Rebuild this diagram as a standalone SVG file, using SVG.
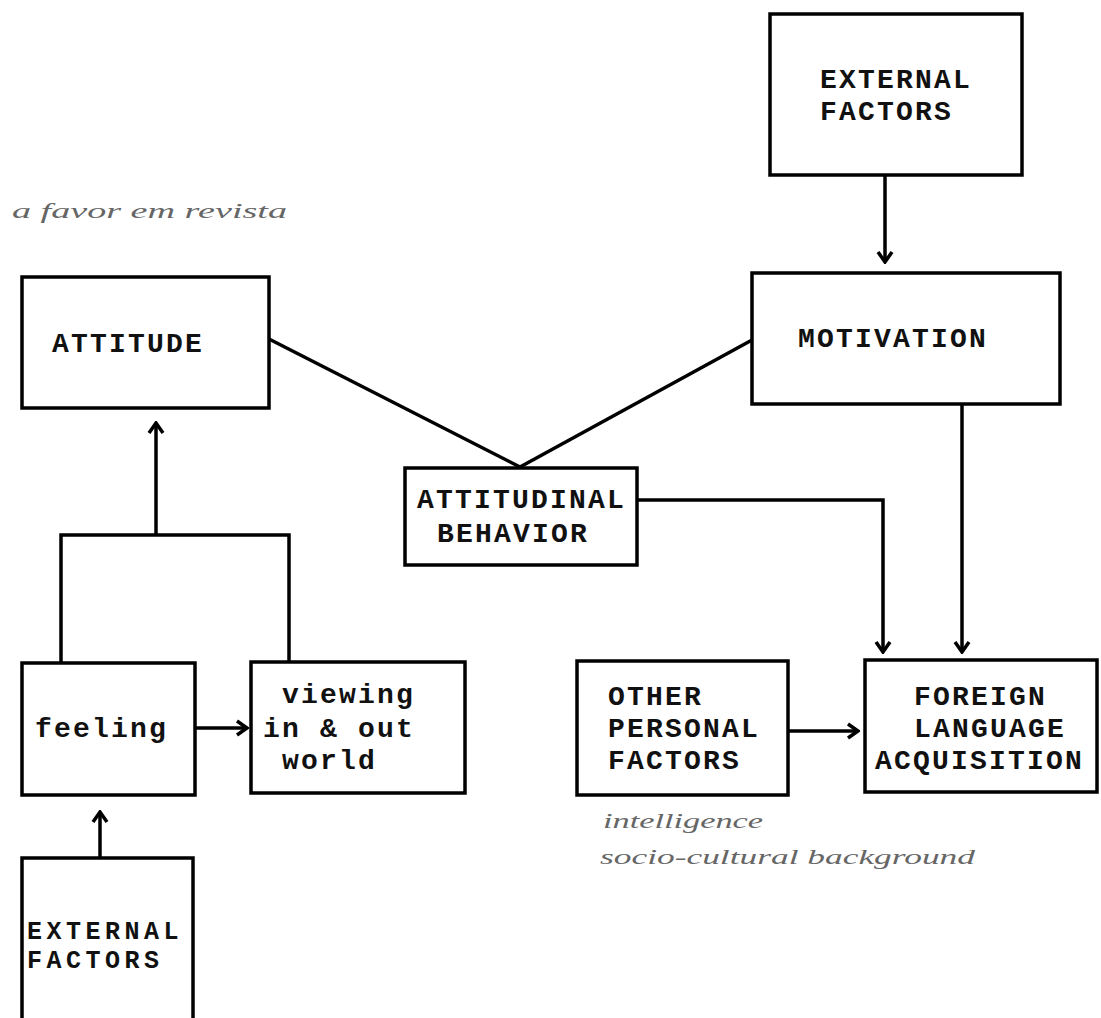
<svg xmlns="http://www.w3.org/2000/svg" width="1101" height="1018" viewBox="0 0 1101 1018">
<style>
.box{fill:#fff;stroke:#000;stroke-width:3.5}
.t{font-family:"Liberation Mono","DejaVu Sans Mono",monospace;font-weight:bold;font-size:28px;letter-spacing:2.2px;fill:#111}
.ts{font-size:25px;letter-spacing:4.5px}
.ln{fill:none;stroke:#000;stroke-width:3.5}
.hw{font-family:"Liberation Serif",serif;font-style:italic;font-size:20px;fill:#666}
</style>
<defs>
<marker id="arr" viewBox="-13 -9 15 18" markerWidth="15" markerHeight="18" refX="0" refY="0" orient="auto" markerUnits="userSpaceOnUse">
<path d="M-10,-7 L0,0 L-10,7" fill="none" stroke="#000" stroke-width="3.5"/>
</marker>
</defs>
<rect width="1101" height="1018" fill="#fff"/>
<g id="connectors">
<line class="ln" x1="885" y1="175" x2="885" y2="262" marker-end="url(#arr)"/>
<line class="ln" x1="269" y1="339" x2="520" y2="467"/>
<line class="ln" x1="752" y1="340" x2="520" y2="467"/>
<polyline class="ln" points="637,500 883,500 883,652" marker-end="url(#arr)"/>
<line class="ln" x1="962" y1="404" x2="962" y2="652" marker-end="url(#arr)"/>
<line class="ln" x1="788" y1="731" x2="858" y2="731" marker-end="url(#arr)"/>
<line class="ln" x1="195" y1="728" x2="247" y2="728" marker-end="url(#arr)"/>
<polyline class="ln" points="61,663 61,535 289,535 289,662"/>
<line class="ln" x1="156" y1="535" x2="156" y2="423" marker-end="url(#arr)"/>
<line class="ln" x1="100" y1="858" x2="100" y2="812" marker-end="url(#arr)"/>
</g>
<g id="external-top">
<rect class="box" x="770" y="14" width="252" height="161"/>
<text class="t" x="820" y="88">EXTERNAL</text>
<text class="t" x="820" y="120">FACTORS</text>
</g>
<g id="motivation">
<rect class="box" x="752" y="273" width="308" height="131"/>
<text class="t" x="798" y="347">MOTIVATION</text>
</g>
<g id="attitude">
<rect class="box" x="22" y="277" width="247" height="131"/>
<text class="t" x="52" y="352">ATTITUDE</text>
</g>
<g id="attitudinal-behavior">
<rect class="box" x="405" y="468" width="232" height="97"/>
<text class="t" x="417" y="508">ATTITUDINAL</text>
<text class="t" x="437" y="542">BEHAVIOR</text>
</g>
<g id="feeling">
<rect class="box" x="22" y="663" width="173" height="132"/>
<text class="t" x="35" y="737">feeling</text>
</g>
<g id="viewing">
<rect class="box" x="251" y="662" width="214" height="131"/>
<text class="t" x="282" y="703">viewing</text>
<text class="t" x="263" y="737">in &amp; out</text>
<text class="t" x="282" y="769">world</text>
</g>
<g id="other-personal">
<rect class="box" x="577" y="661" width="211" height="134"/>
<text class="t" x="608" y="705">OTHER</text>
<text class="t" x="608" y="737">PERSONAL</text>
<text class="t" x="608" y="769">FACTORS</text>
</g>
<g id="fla">
<rect class="box" x="865" y="660" width="232" height="132"/>
<text class="t" x="914" y="705">FOREIGN</text>
<text class="t" x="914" y="737">LANGUAGE</text>
<text class="t" x="875" y="769">ACQUISITION</text>
</g>
<g id="external-bottom">
<rect class="box" x="22" y="858" width="171" height="175"/>
<text class="t ts" x="27" y="939">EXTERNAL</text>
<text class="t ts" x="27" y="968">FACTORS</text>
</g>
<g id="handwriting">
<text class="hw" x="12" y="218" textLength="275" lengthAdjust="spacingAndGlyphs">a favor em revista</text>
<text class="hw" x="603" y="828" textLength="160" lengthAdjust="spacingAndGlyphs">intelligence</text>
<text class="hw" x="600" y="864" textLength="375" lengthAdjust="spacingAndGlyphs">socio-cultural background</text>
</g>
</svg>
